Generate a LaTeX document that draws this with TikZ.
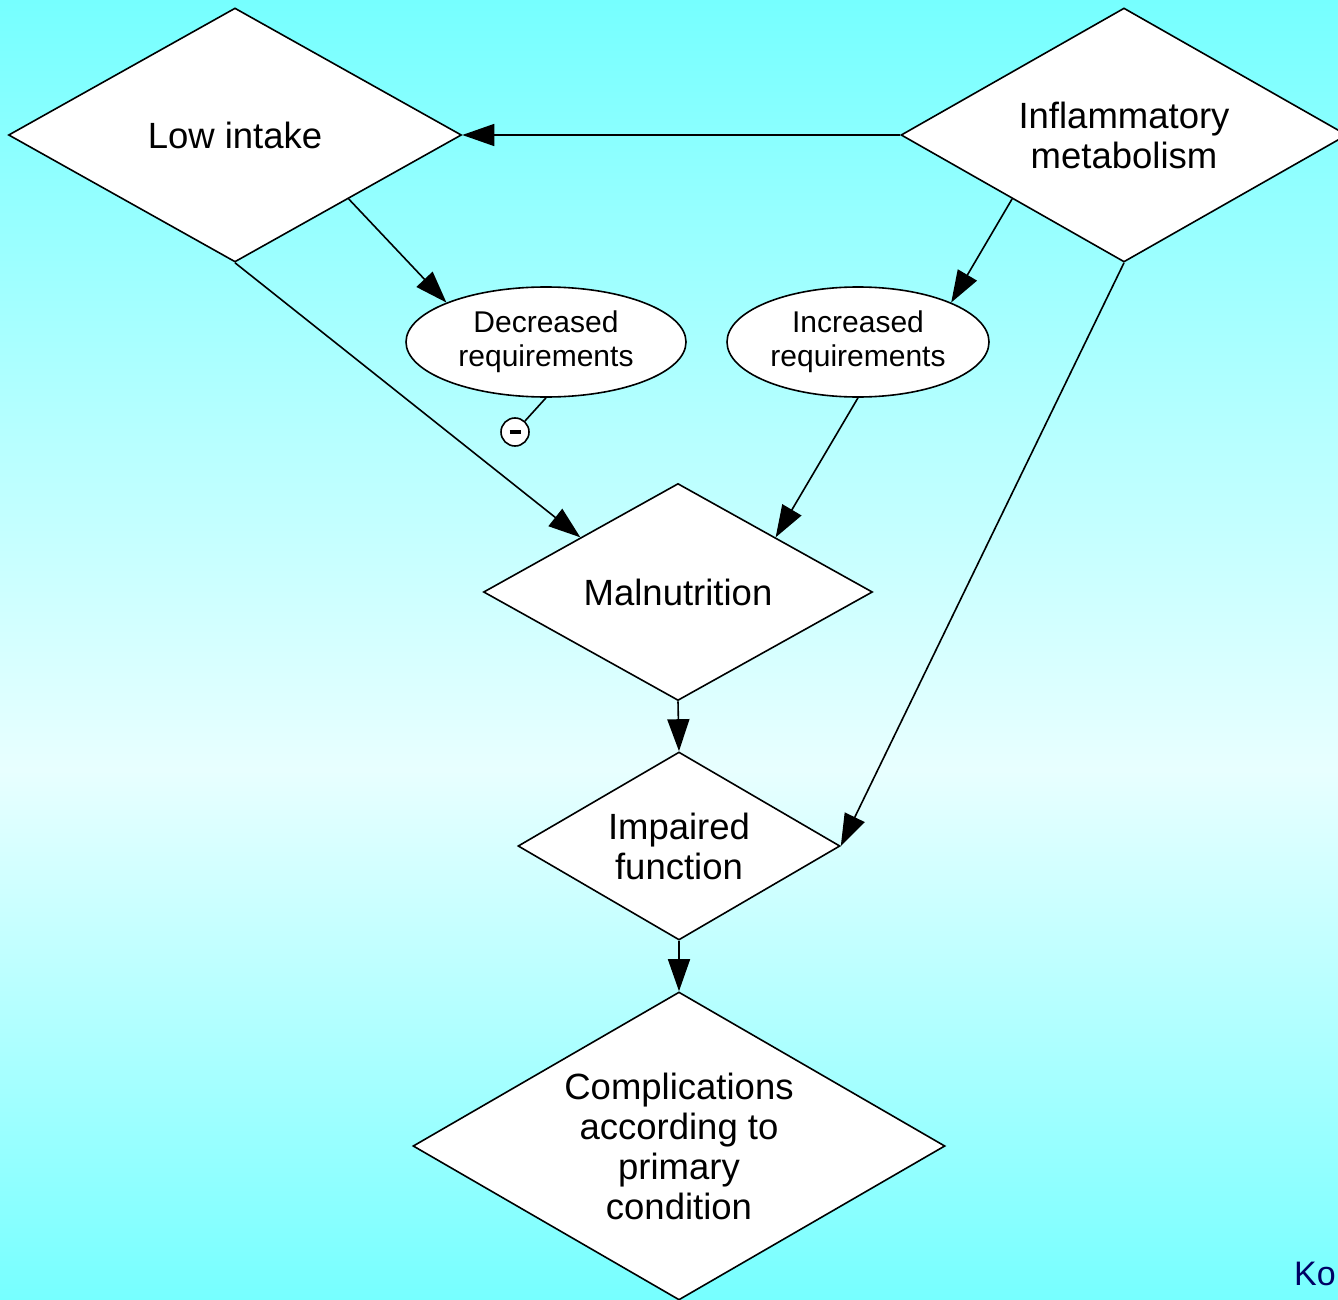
\documentclass[tikz,border=0pt]{standalone}
\usepackage{fontspec}
\setmainfont{Liberation Sans}
\usetikzlibrary{shapes.geometric,arrows.meta}
\definecolor{bgcyan}{RGB}{118,255,255}
\definecolor{bglight}{RGB}{232,255,255}
\definecolor{kocol}{RGB}{0,0,100}
\tikzset{
  dia/.style={diamond, draw=black, fill=white, line width=1.6pt, inner sep=0pt,
    align=center, font=\fontsize{36.5}{40}\selectfont},
  ell/.style={ellipse, draw=black, fill=white, line width=1.6pt, inner sep=0pt,
    align=center, font=\fontsize{30}{34}\selectfont},
  arr/.style={line width=1.6pt, -{Triangle[length=32pt,width=22pt]}},
  plain/.style={line width=1.6pt},
  inhib/.style={circle, draw=black, fill=white, line width=1.6pt, minimum size=28pt, inner sep=0pt}
}
\begin{document}
\begin{tikzpicture}[x=1pt,y=-1pt]
\useasboundingbox (0,0) rectangle (1338,1300);
\clip (0,0) rectangle (1338,1300);
\shade[top color=bgcyan, bottom color=bglight] (0,0) rectangle (1338,770);
\shade[top color=bglight, bottom color=bgcyan] (0,770) rectangle (1338,1300);

\node[dia, shape aspect=1.78, minimum width=453pt, minimum height=254pt] (li) at (235,135) {Low intake};
\node[dia, shape aspect=1.76, minimum width=446pt, minimum height=254pt] (im) at (1124,135) {Inflammatory\\metabolism};
\node[ell, minimum width=280pt, minimum height=110pt] (dec) at (546,342) {Decreased\\requirements};
\node[ell, minimum width=262pt, minimum height=110pt] (inc) at (858,342) {Increased\\requirements};
\node[dia, shape aspect=1.79, minimum width=389pt, minimum height=217pt] (mal) at (678,592) {Malnutrition};
\node[dia, shape aspect=1.71, minimum width=322pt, minimum height=188pt] (imp) at (679,846) {Impaired\\function};
\node[dia, shape aspect=1.73, minimum width=532pt, minimum height=308pt] (comp) at (679,1146) {Complications\\according to\\primary\\condition};
\node[inhib] (minus) at (515,432) {\rule{11pt}{3.5pt}};

\draw[arr] (im.west) -- (li.east);
\draw[arr] (li.south east) -- (dec.north west);
\draw[arr] (im.south west) -- (inc.north east);
\draw[arr] (li.south) -- (mal.north west);
\draw[arr] (inc.south) -- (mal.north east);
\draw[arr] (im.south) -- (imp.east);
\draw[arr] (mal.south) -- (imp.north);
\draw[arr] (imp.south) -- (comp.north);
\draw[plain] (dec.south) -- (minus);

\node[anchor=base west, text=kocol, font=\fontsize{34}{40}\selectfont, inner sep=0pt] (ko) at (1294,1285) {Ko};
\end{tikzpicture}
\end{document}
